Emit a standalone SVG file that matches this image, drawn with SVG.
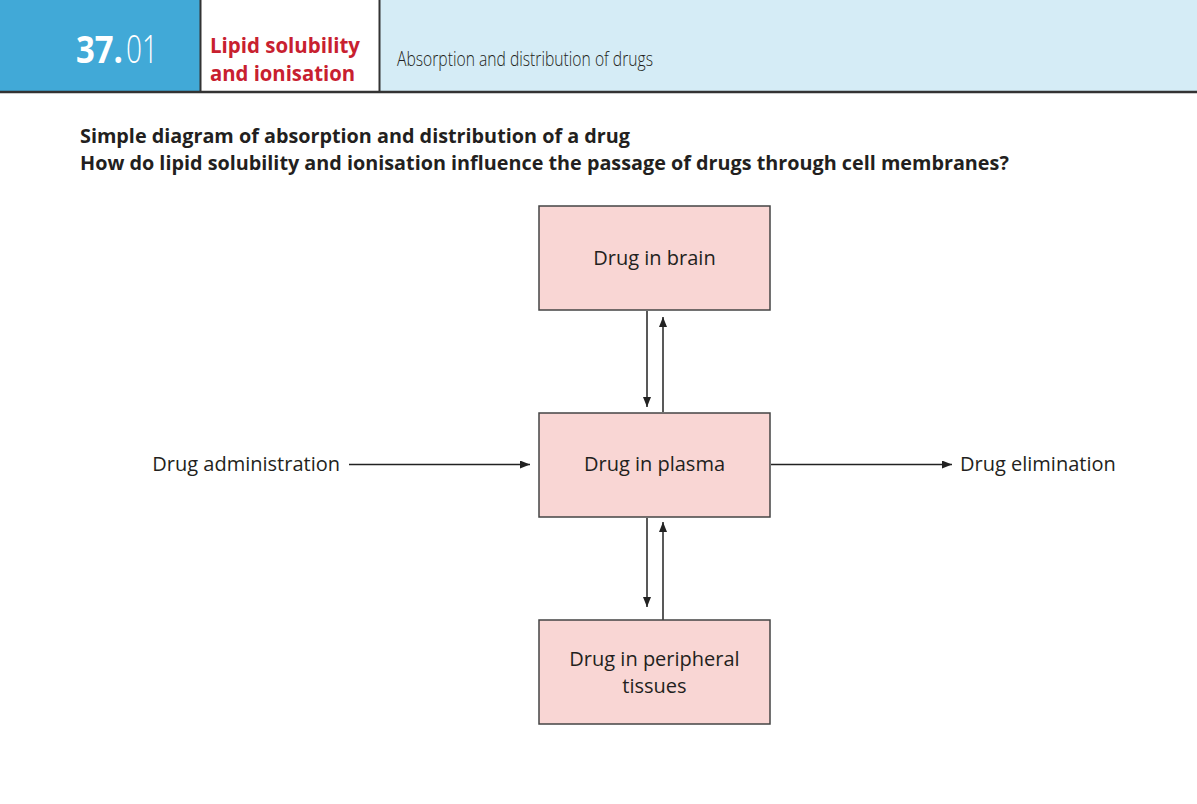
<svg xmlns="http://www.w3.org/2000/svg" width="1197" height="804" viewBox="0 0 1197 804">
<defs>
<marker id="ah" viewBox="0 0 10 8" refX="10" refY="4" markerWidth="10" markerHeight="8" markerUnits="userSpaceOnUse" orient="auto"><path d="M0,0 L10,4 L0,8 z" fill="#222"/></marker>
<style>
.box{fill:#f9d6d4;stroke:#444;stroke-width:1.5}
.lbl{font-family:"Open Sans","Noto Sans",sans-serif;font-size:20px;fill:#231f20}
.conn{stroke:#222;stroke-width:1.5;fill:none;marker-end:url(#ah)}
.ttl{font-family:"Open Sans","Noto Sans",sans-serif;font-size:19.8px;font-weight:bold;fill:#231f20}
.red{font-family:"Open Sans",sans-serif;font-size:22px;font-weight:bold;fill:#c8202f}
</style>
</defs>
<rect width="1197" height="804" fill="#fff"/>
<g id="header">
<rect x="0" y="0" width="200" height="92" fill="#41a9d7"/>
<rect x="380" y="0" width="817" height="92" fill="#d5ecf6"/>
<rect x="200.5" y="-1" width="179" height="93" fill="#fff" stroke="#333" stroke-width="2"/>
<line x1="0" y1="92" x2="1197" y2="92" stroke="#333" stroke-width="2.5"/>
<text x="76" y="63" font-family="'Open Sans',sans-serif" font-size="38" font-weight="bold" fill="#fff" textLength="47" lengthAdjust="spacingAndGlyphs">37.</text>
<text x="126" y="63" font-family="'Open Sans',sans-serif" font-size="38" font-weight="300" fill="#fff" textLength="32" lengthAdjust="spacingAndGlyphs">01</text>
<text class="red" x="210" y="53" textLength="150" lengthAdjust="spacingAndGlyphs">Lipid solubility</text>
<text class="red" x="210" y="81" textLength="145" lengthAdjust="spacingAndGlyphs">and ionisation</text>
<text x="397" y="66" font-family="'Open Sans',sans-serif" font-size="21" font-weight="300" fill="#231f20" textLength="256" lengthAdjust="spacingAndGlyphs">Absorption and distribution of drugs</text>
</g>
<g id="title">
<text class="ttl" x="80" y="143">Simple diagram of absorption and distribution of a drug</text>
<text class="ttl" x="80" y="170">How do lipid solubility and ionisation influence the passage of drugs through cell membranes?</text>
</g>
<g id="connectors">
<line class="conn" x1="647" y1="311" x2="647" y2="407"/>
<line class="conn" x1="663" y1="412" x2="663" y2="317"/>
<line class="conn" x1="647" y1="518" x2="647" y2="607"/>
<line class="conn" x1="663" y1="620" x2="663" y2="522"/>
<line class="conn" x1="349" y1="464.5" x2="530" y2="464.5"/>
<line class="conn" x1="771" y1="464.5" x2="952" y2="464.5"/>
</g>
<g id="brain">
<rect class="box" x="539" y="206" width="231" height="104"/>
<text class="lbl" x="654.5" y="265" text-anchor="middle">Drug in brain</text>
</g>
<g id="plasma">
<rect class="box" x="539" y="413" width="231" height="104"/>
<text class="lbl" x="654.5" y="471" text-anchor="middle">Drug in plasma</text>
</g>
<g id="peripheral">
<rect class="box" x="539" y="620" width="231" height="104"/>
<text class="lbl" x="654.5" y="666" text-anchor="middle">Drug in peripheral</text>
<text class="lbl" x="654.5" y="693" text-anchor="middle">tissues</text>
</g>
<g id="administration">
<text class="lbl" x="340" y="471" text-anchor="end">Drug administration</text>
</g>
<g id="elimination">
<text class="lbl" x="960" y="471">Drug elimination</text>
</g>
</svg>
